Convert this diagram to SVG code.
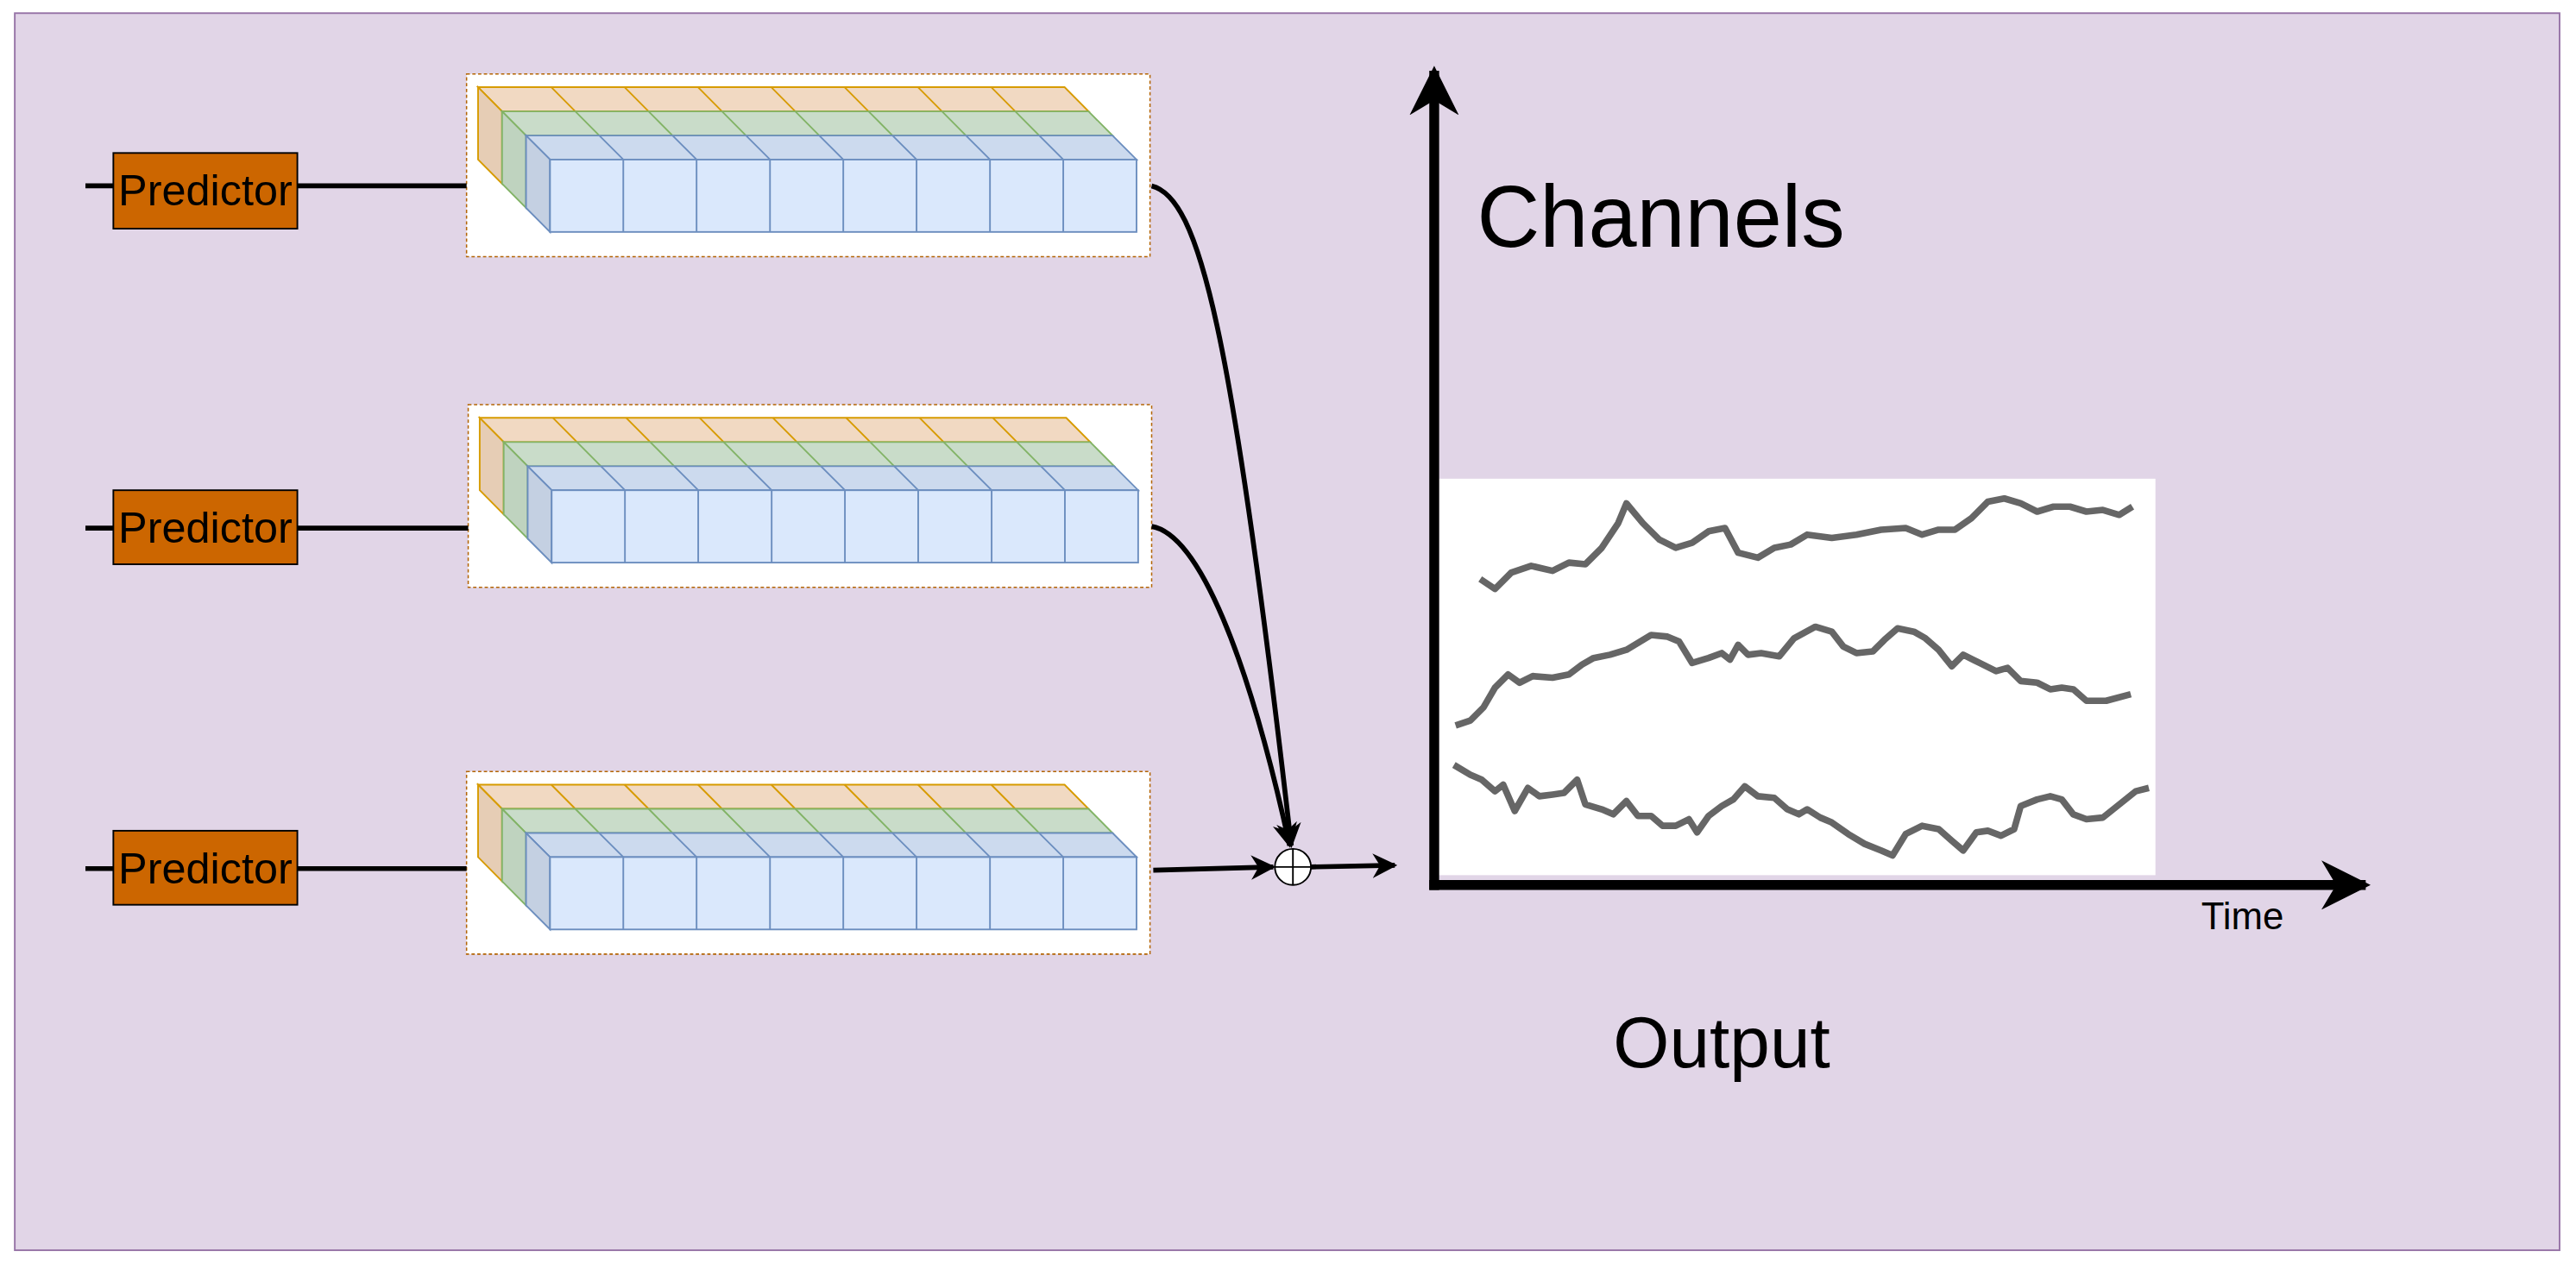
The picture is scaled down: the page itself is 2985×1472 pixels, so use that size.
<svg xmlns="http://www.w3.org/2000/svg" xmlns:xlink="http://www.w3.org/1999/xlink" width="2985" height="1472" viewBox="0 0 2985 1472">
<style>
.pred{fill:#cc6600;stroke:#000;stroke-width:1}
.pt{font-family:"Liberation Sans",Arial,sans-serif;font-size:26.5px;fill:#000;text-anchor:middle}
.wire{stroke:#000;stroke-width:3;fill:none}
.ot{fill:#f1d9c2;stroke:#d79b00;stroke-width:1}
.os{fill:#e6cdb5;stroke:#d79b00;stroke-width:1}
.gt{fill:#c9dcc9;stroke:#82b366;stroke-width:1}
.gs{fill:#bfd3bf;stroke:#82b366;stroke-width:1}
.bt{fill:#ccdaee;stroke:#6c8ebf;stroke-width:1}
.bs{fill:#c4d0e2;stroke:#6c8ebf;stroke-width:1}
.bf{fill:#dae8fc;stroke:#6c8ebf;stroke-width:1}
.sig{fill:none;stroke:#666;stroke-width:4;stroke-linejoin:round}
</style>
<defs>
<marker id="ah" viewBox="0 0 10 10" refX="9" refY="5" markerWidth="5" markerHeight="5" orient="auto" markerUnits="strokeWidth"><path d="M0,0 L10,5 L0,10 L3,5 Z" fill="#000"/></marker>
<marker id="ah2" viewBox="0 0 10 10" refX="9" refY="5" markerWidth="5" markerHeight="5" orient="auto" markerUnits="strokeWidth"><path d="M0,0 L10,5 L0,10 L3,5 Z" fill="#000"/></marker>
<g id="mod">
<rect x="0" y="0" width="416" height="111" fill="#fff" stroke="#b46504" stroke-width="0.8" stroke-dasharray="2,1.5"/>
<polygon class="ot" points="7,8 364,8 378.6,22.7 21.6,22.7"/>
<polygon class="os" points="7,8 21.6,22.7 21.6,66.7 7,52"/>
<path stroke="#d79b00" fill="none" d="M51.6,8l14.6,14.7M96.2,8l14.6,14.7M140.9,8l14.6,14.7M185.5,8l14.6,14.7M230.1,8l14.6,14.7M274.8,8l14.6,14.7M319.4,8l14.6,14.7"/>
<polygon class="gt" points="21.6,22.7 378.6,22.7 393.2,37.4 36.2,37.4"/>
<polygon class="gs" points="21.6,22.7 36.2,37.4 36.2,81.4 21.6,66.7"/>
<path stroke="#82b366" fill="none" d="M66.2,22.7l14.6,14.7M110.8,22.7l14.6,14.7M155.5,22.7l14.6,14.7M200.1,22.7l14.6,14.7M244.7,22.7l14.6,14.7M289.4,22.7l14.6,14.7M334,22.7l14.6,14.7"/>
<polygon class="bt" points="36.2,37.4 393.2,37.4 407.8,52 50.8,52"/>
<polygon class="bs" points="36.2,37.4 50.8,52 50.8,96 36.2,81.4"/>
<path stroke="#6c8ebf" fill="none" d="M80.8,37.4l14.6,14.6M125.4,37.4l14.6,14.6M170.1,37.4l14.6,14.6M214.7,37.4l14.6,14.6M259.3,37.4l14.6,14.6M304,37.4l14.6,14.6M348.6,37.4l14.6,14.6"/>
<rect class="bf" x="50.8" y="52" width="357" height="44"/>
<path stroke="#6c8ebf" fill="none" d="M95.4,52v44M140,52v44M184.7,52v44M229.3,52v44M273.9,52v44M318.6,52v44M363.2,52v44"/>
</g>
</defs>
<g transform="scale(1.9037,1.9067)">
<rect id="bg" x="9" y="8" width="1549" height="752" fill="#e1d5e7" stroke="#9673a6" stroke-width="1"/>
<g id="module1"><use xlink:href="#mod" x="284" y="45"/></g>
<g id="module2"><use xlink:href="#mod" x="285" y="246"/></g>
<g id="module3"><use xlink:href="#mod" x="284" y="469"/></g>
<g id="predictor1"><rect class="pred" x="69" y="93" width="112" height="46"/><text class="pt" x="125" y="125">Predictor</text></g>
<g id="predictor2"><rect class="pred" x="69" y="298" width="112" height="45"/><text class="pt" x="125" y="330">Predictor</text></g>
<g id="predictor3"><rect class="pred" x="69" y="505" width="112" height="45"/><text class="pt" x="125" y="537">Predictor</text></g>
<g id="sum"><circle cx="787" cy="527" r="11" fill="#fff" stroke="#000" stroke-width="1"/><path d="M776,527h22M787,516v22" stroke="#000" stroke-width="1"/></g>
<g id="chart">
<rect x="876" y="291" width="436" height="241" fill="#fff"/>
<polyline class="sig" points="901,352 910,358 920,348 932,344 945,347 955,342 965,343 975,333 985,318 990,306 1000,318 1010,328 1020,333 1030,330 1040,323 1050,321 1058,336 1070,339 1080,333 1090,331 1100,325 1115,327 1130,325 1145,322 1160,321 1170,325 1180,322 1190,322 1200,315 1210,305 1220,303 1230,306 1240,311 1250,308 1260,308 1270,311 1280,310 1290,313 1298,308"/>
<polyline class="sig" points="886,441 895,438 903,430 910,418 918,410 925,415 933,411 945,412 955,410 963,404 970,400 980,398 990,395 1000,389 1005,386 1015,387 1022,390 1030,403 1040,400 1048,397 1053,401 1058,392 1064,398 1072,397 1083,399 1092,388 1105,381 1115,384 1122,393 1130,397 1140,396 1147,389 1155,382 1165,384 1172,388 1180,395 1188,405 1195,398 1205,403 1215,408 1222,406 1230,414 1240,415 1248,419 1255,418 1262,419 1270,426 1282,426 1297,422"/>
<polyline class="sig" points="885,465 895,471 902,474 910,481 915,477 922,493 930,479 937,484 945,483 952,482 960,474 965,489 975,492 982,495 990,487 997,496 1005,496 1012,502 1020,502 1028,498 1033,506 1040,496 1048,490 1055,486 1062,478 1070,484 1080,485 1088,492 1095,495 1100,492 1108,497 1115,500 1125,507 1135,513 1145,517 1152,520 1160,507 1170,502 1180,504 1188,511 1195,517 1203,506 1210,505 1218,508 1226,504 1230,490 1240,486 1248,484 1255,486 1262,495 1270,498 1280,497 1290,489 1300,481 1308,479"/>
<line x1="873" y1="541" x2="873" y2="43" stroke="#000" stroke-width="6" marker-end="url(#ah2)"/>
<line x1="870" y1="538" x2="1440" y2="538" stroke="#000" stroke-width="6" marker-end="url(#ah2)"/>
<text x="899" y="150" font-family="Liberation Sans,Arial,sans-serif" font-size="53">Channels</text>
<text x="1365" y="565" font-family="Liberation Sans,Arial,sans-serif" font-size="23" text-anchor="middle">Time</text>
<text x="1048" y="649" font-family="Liberation Sans,Arial,sans-serif" font-size="44" text-anchor="middle">Output</text>
</g>
<g id="connectors">
<path class="wire" d="M52,113H69M181,113H284"/>
<path class="wire" d="M52,321H69M181,321H285"/>
<path class="wire" d="M52,528H69M181,528H284"/>
<path class="wire" d="M701,113 C730,120 750,200 786,514" marker-end="url(#ah)"/>
<path class="wire" d="M701,320 C730,325 760,400 785,514" marker-end="url(#ah)"/>
<path class="wire" d="M702,529 L775,527" marker-end="url(#ah)"/>
<path class="wire" d="M798,527 L849,526" marker-end="url(#ah)"/>
</g>
</g>
</svg>
